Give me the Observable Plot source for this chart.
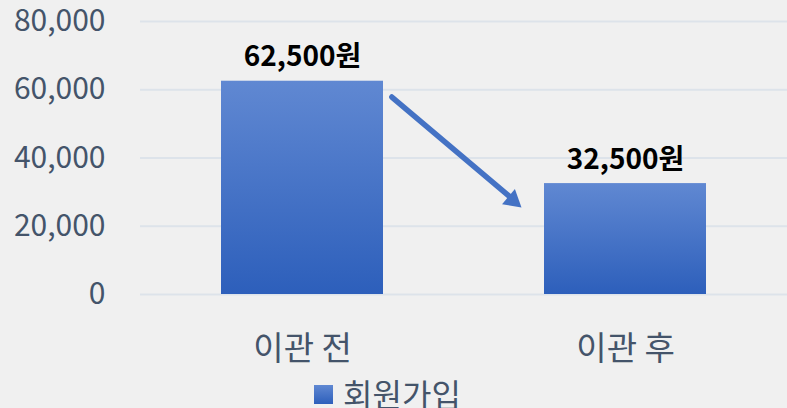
<!DOCTYPE html>
<html><head><meta charset="utf-8">
<script src="https://cdn.jsdelivr.net/npm/d3@7"></script>
<script src="https://cdn.jsdelivr.net/npm/@observablehq/plot@0.6"></script>
<style>
html,body{margin:0;padding:0;background:#f0f0f0;overflow:hidden;width:787px;height:408px;position:relative;}
#chart{width:787px;}
#chart svg{overflow:visible;}
#legend{position:absolute;left:0;top:370px;width:787px;height:46px;display:flex;align-items:center;justify-content:center;font-family:"Noto Sans CJK KR","Noto Sans",sans-serif;font-size:32px;line-height:1;color:#44546a;padding-right:12px;box-sizing:border-box;}
#legend .sw{width:19px;height:19px;background:linear-gradient(#6088d2,#2d5fbb);margin-right:10px;margin-top:2px;}
</style></head>
<body>
<div id="chart"></div>
<div id="legend"><span class="sw"></span><span>회원가입</span></div>
<script>
const categories = ["이관 전", "이관 후"];
const values = [62500, 32500];
const valueLabels = ["62,500원", "32,500원"];
const yTicks = [0, 20000, 40000, 60000, 80000];
const arrowFrom = {x: "이관 전", y: 80000};
const arrowTo = {x: "이관 후", y: 0};

const data = categories.map((c, i) => ({cat: c, v: values[i], label: valueLabels[i]}));
const font = '"Noto Sans CJK KR","Noto Sans",sans-serif';

const defs = () => {
  const svgNS = "http://www.w3.org/2000/svg";
  const d = document.createElementNS(svgNS, "defs");
  d.innerHTML = '<linearGradient id="barGrad" x1="0" y1="0" x2="0" y2="1"><stop offset="0" stop-color="#6088d2"/><stop offset="1" stop-color="#2d5fbb"/></linearGradient>';
  return d;
};

const arrowData = [{x1: arrowFrom.x, y1: arrowFrom.y, x2: arrowTo.x, y2: arrowTo.y}];

const chart = Plot.plot({
  width: 787,
  height: 370,
  marginLeft: 140,
  marginRight: 0,
  marginTop: 21,
  marginBottom: 76,
  style: {background: "#f0f0f0", fontFamily: font, fontSize: "30px", color: "#44546a"},
  x: {domain: categories, paddingInner: 0.5, paddingOuter: 0.25, label: null},
  y: {domain: [0, 80000], ticks: yTicks, label: null},
  marks: [
    defs,
    Plot.gridY(yTicks, {stroke: "#dde3ea", strokeOpacity: 1, strokeWidth: 2}),
    Plot.axisY(yTicks, {tickSize: 0, tickPadding: 35, tickFormat: d3.format(","), fill: "#44546a", fontSize: 30, label: null}),
    Plot.axisX({tickSize: 0, tickPadding: 42, fill: "#44546a", fontSize: 33, label: null}),
    Plot.barY(data, {x: "cat", y: "v", fill: "url(#barGrad)"}),
    Plot.text(data, {x: "cat", y: "v", text: "label", lineAnchor: "bottom", dy: -15, fontSize: 28, fontWeight: "bold", fill: "#000"}),
    Plot.arrow(arrowData, {
      x1: "x1", y1: "y1", x2: "x2", y2: "y2",
      stroke: "#4472c4", strokeWidth: 5.5, headLength: 0,
      insetStart: 117, insetEnd: 148
    }),
    Plot.vector(arrowData, {
      x: "x2", y: "y2", shape: "spike", anchor: "end", length: 17, r: 10, rotate: 130,
      dx: -104, dy: -87, fill: "#4472c4", stroke: "none"
    })
  ]
});
document.getElementById("chart").appendChild(chart);
</script>
</body></html>
